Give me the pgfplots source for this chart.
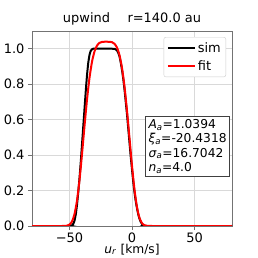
\documentclass[border=0pt]{standalone}
\usepackage{pgfplots}
\pgfplotsset{compat=1.18}
\usepackage{fontspec}
\setmainfont{DejaVu Sans}
\begin{document}
\begin{tikzpicture}
\useasboundingbox (0,0) rectangle (258bp,258bp);
\begin{axis}[
  at={(32bp,32bp)}, anchor=south west,
  width=200bp, height=195bp, scale only axis,
  xmin=-80, xmax=80, ymin=0, ymax=1.1,
  xtick={-50,0,50}, xticklabels={−50,0,50},
  ytick={0,0.2,0.4,0.6,0.8,1.0},
  yticklabel style={/pgf/number format/.cd, fixed, fixed zerofill, precision=1},
  /pgf/number format/assume math mode=true,
  ticklabel style={font=\fontsize{13}{15}\selectfont},
  xticklabel style={anchor=base, inner sep=0pt, yshift=-12.5bp},
  grid=major, grid style={black!15, line width=0.6bp},
  axis line style={black!55, line width=0.8bp},
  tick style={black!55, line width=0.8bp},
  tick align=outside, major tick length=4bp,
  xtick pos=bottom, ytick pos=left,
  xlabel={\textit{u}\textsubscript{\textit{r}} [km/s]},
  xlabel style={at={(axis description cs:0.5,0)}, anchor=base, inner sep=0pt,
    yshift=-27.2bp, font=\fontsize{12.3}{15}\selectfont},
  title={upwind\hspace{1.35em}r=140.0 au},
  title style={font=\fontsize{13}{15}\selectfont, yshift=-4bp},
  legend style={at={(0.97,0.969)}, anchor=north east, draw=black!20, rounded corners=2bp,
    font=\fontsize{13}{15}\selectfont, row sep=3bp, inner sep=3bp},
  legend cell align=left,
  legend image code/.code={\draw[#1] (0bp,0bp) -- (27bp,0bp);},
]
\addplot[black, line width=2bp, smooth, tension=0.3] coordinates {
(-80,0) (-50,0) (-49,0.001) (-48,0.004) (-47,0.012) (-46,0.03) (-45,0.065) (-44,0.12)
(-43,0.19) (-42,0.27) (-41,0.36) (-40,0.46) (-39,0.56) (-38,0.66) (-37,0.76)
(-36,0.85) (-35,0.92) (-34,0.965) (-33,0.988) (-32,0.997) (-31,1.0) (-28,1.0) (-24,1.0)
(-20,1.0) (-16,1.0) (-14,0.999) (-13,0.996) (-12,0.99) (-11,0.977) (-10,0.956) (-9,0.922)
(-8,0.88) (-7,0.83) (-6,0.77) (-5,0.70) (-4,0.63) (-3,0.55) (-2,0.47) (-1,0.39)
(0,0.32) (1,0.25) (2,0.19) (3,0.14) (4,0.10) (5,0.066) (6,0.041) (7,0.023) (8,0.012)
(9,0.005) (10,0.002) (11,0.0005) (12,0) (80,0)
};
\addlegendentry{sim}
\addplot[red, line width=2bp, smooth, tension=0.4] coordinates {
(-80,0) (-56,0) (-54,0.0003) (-52,0.0018) (-50,0.0077) (-48,0.0254) (-46,0.0669)
(-44,0.1434) (-42,0.2589) (-40,0.4054) (-38,0.5638) (-36,0.7128) (-34,0.8362)
(-32,0.9265) (-30,0.9850) (-28,1.0177) (-26,1.0330) (-24,1.0383) (-22,1.0394)
(-20,1.0394) (-18,1.0392) (-16,1.0368) (-14,1.0280) (-12,1.0062) (-10,0.9633)
(-8,0.8916) (-6,0.7867) (-4,0.6508) (-2,0.4953) (0,0.3394) (2,0.2045) (4,0.1054)
(6,0.0452) (8,0.0156) (10,0.0042) (12,0.0009) (14,0.0001) (16,0) (80,0)
};
\addlegendentry{fit}
\node[draw=black!75, fill=white, line width=0.8bp, anchor=north east, align=left,
  inner sep=3bp, font=\fontsize{12.3}{14.3}\selectfont] at (rel axis cs:0.99,0.564)
  {\textit{A}\textsubscript{\textit{a}}=1.0394\\
   \textit{ξ}\textsubscript{\textit{a}}=-20.4318\\
   \textit{σ}\textsubscript{\textit{a}}=16.7042\\
   \textit{n}\textsubscript{\textit{a}}=4.0};
\end{axis}
\end{tikzpicture}
\end{document}
